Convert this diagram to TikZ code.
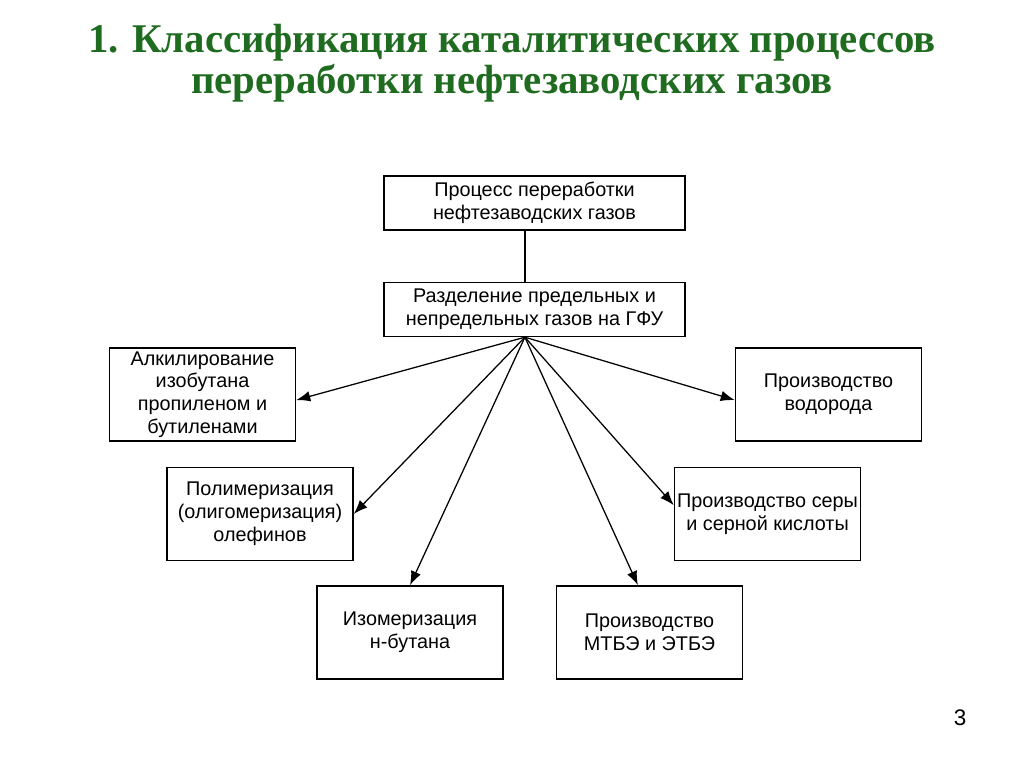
\documentclass[tikz,border=0pt]{standalone}
\usepackage{fontspec}
\setmainfont{Liberation Sans}
\newfontfamily\titlefont{Liberation Serif}
\usetikzlibrary{positioning, arrows.meta}
\definecolor{titlegreen}{RGB}{31,107,31}

\begin{document}
\begin{tikzpicture}[
        x = 0.025cm, y = -0.025cm,
        every node/.style = {
            draw,
            rectangle,
            align = center,
            line width = 1pt,
            inner sep = 0pt,
            font = \fontsize{14.1}{16.2}\selectfont
        },
        procbox/.style = {
            minimum width = 4.65cm,
            minimum height = 2.33cm
        },
        headbox/.style = {
            minimum width = 7.53cm,
            minimum height = 1.35cm
        },
        title/.style = {
            draw = none,
            text = titlegreen,
            font = \titlefont\bfseries\fontsize{29}{29}\selectfont
        },
        link/.style = {
            line width = 0.9pt,
            -{Latex[length = 10pt, width = 7.5pt]}
        }
    ]
        \useasboundingbox (0, 0) rectangle (1024, 767);

        \node[title] (title) at (512, 63) {
            1. Классификация каталитических процессов \\
            переработки нефтезаводских газов
        };

        \node[headbox] (proc) at (534.5, 203) {
            Процесс переработки \\
            нефтезаводских газов
        };
        \node[headbox] (gfu) at (534.5, 309.5) {
            Разделение предельных и \\
            непредельных газов на ГФУ
        };

        \node[procbox] (alkyl) at (202.5, 394.5) {
            Алкилирование \\
            изобутана \\
            пропиленом и \\
            бутиленами
        };
        \node[procbox] (hydro) at (828.5, 394.5) {
            Производство \\
            водорода
        };
        \node[procbox] (poly) at (260, 514) {
            Полимеризация \\
            (олигомеризация) \\
            олефинов
        };
        \node[procbox] (sulfur) at (767.5, 514) {
            Производство серы \\
            и серной кислоты
        };
        \node[procbox] (isom) at (410, 632.5) {
            Изомеризация \\
            н-бутана
        };
        \node[procbox] (mtbe) at (649.5, 632.5) {
            Производство \\
            МТБЭ и ЭТБЭ
        };

        \node[draw = none, font = \fontsize{16}{18}\selectfont] (page) at (960, 718) {3};

        \coordinate (hub) at ([xshift = -0.24cm]gfu.south);

        \draw[line width = 0.9pt] ([xshift = -0.24cm]proc.south) -- ([xshift = -0.24cm]gfu.north);
        \draw[link] (hub) -- ([yshift = -0.14cm]alkyl.east);
        \draw[link] (hub) -- ([yshift = -0.14cm]hydro.west);
        \draw[link] (hub) -- (poly.east);
        \draw[link] (hub) -- ([yshift = 0.22cm]sulfur.west);
        \draw[link] (hub) -- (isom.north);
        \draw[link] (hub) -- ([xshift = -0.29cm]mtbe.north);
    \end{tikzpicture}
\end{document}
